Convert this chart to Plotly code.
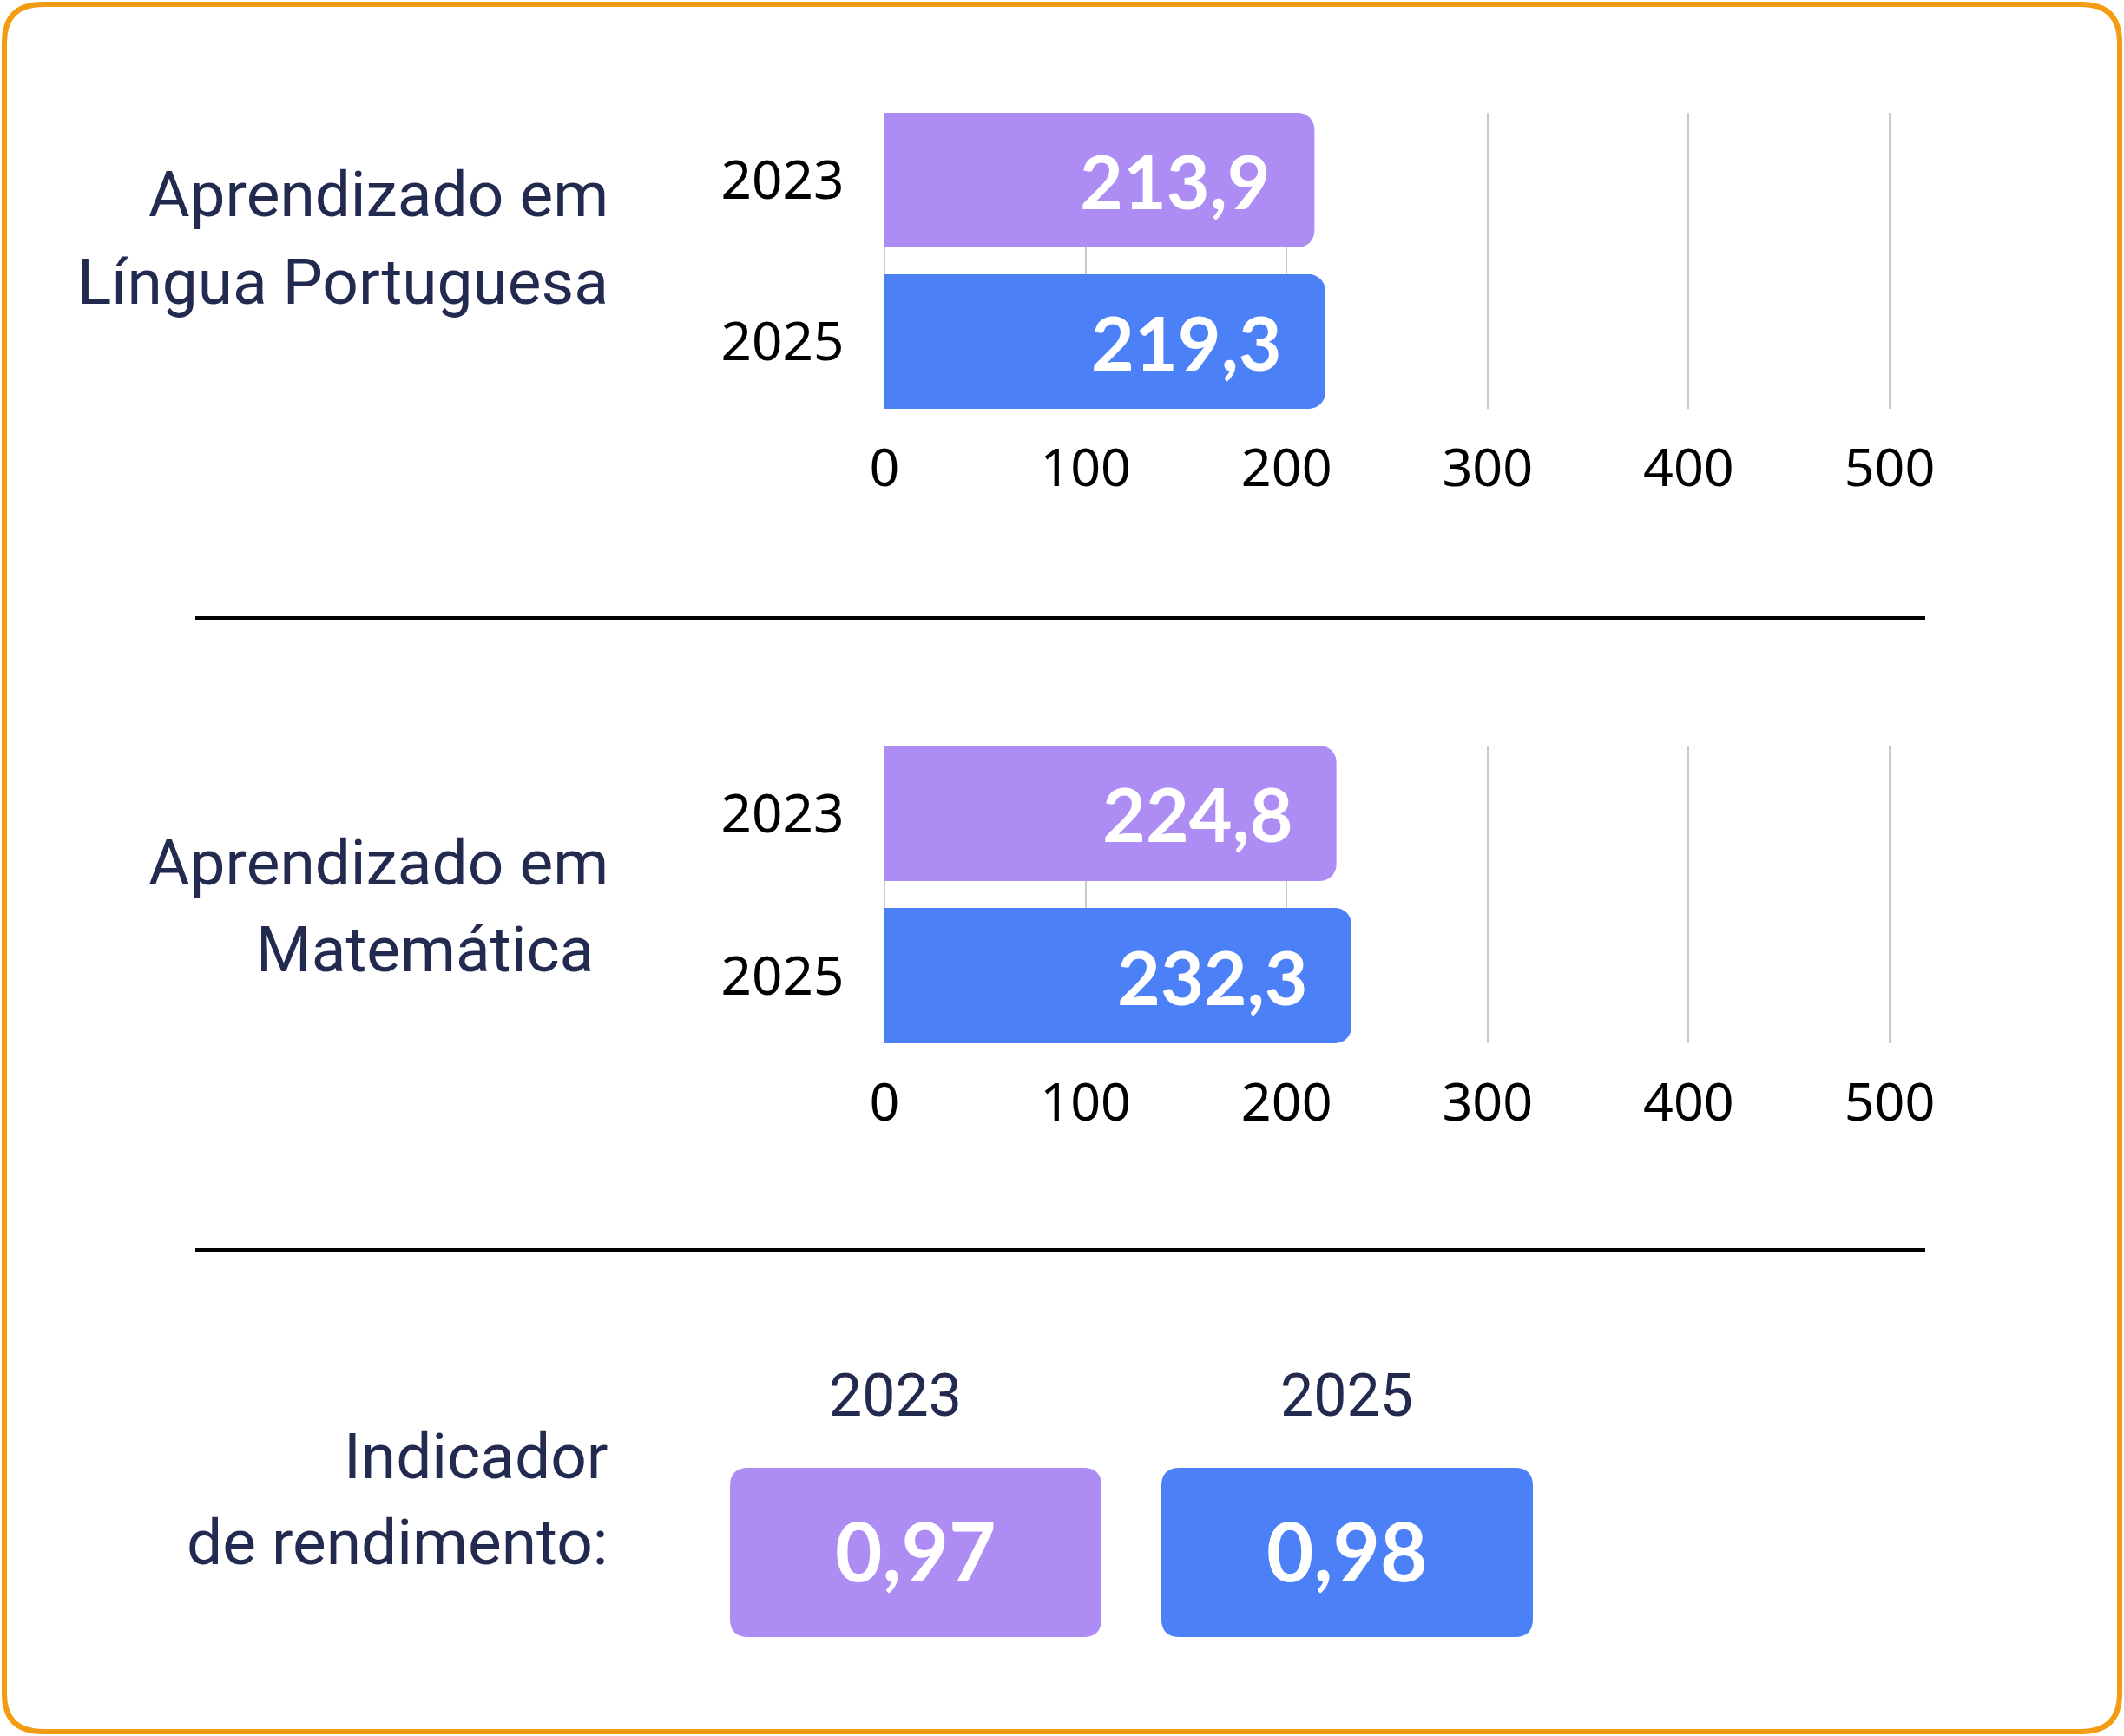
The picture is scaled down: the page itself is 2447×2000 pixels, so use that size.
import plotly.graph_objects as go

# ---------------- data ----------------
years = ["2023", "2025"]
lp_values = [213.9, 219.3]
mat_values = [224.8, 232.3]
indicator_values = [0.97, 0.98]
x_ticks = [0, 100, 200, 300, 400, 500]
lp_label = ["Aprendizado em", "Língua Portuguesa"]
mat_label = ["Aprendizado em", "Matemática"]
indicator_label = ["Indicador", "de rendimento:"]

# ---------------- style ----------------
W, H = 2447, 2000
PURPLE = "#AD8DF3"
BLUE = "#4C80F6"
NAVY = "#222A50"
ORANGE = "#F39C12"
GRID = "#C9C9C9"
COND = "Roboto, sans-serif"
TICKF = "Noto Sans, sans-serif"
BOLDF = "Lato, sans-serif"
BAR_W = 0.834
AX0, AX1 = 1019, 2177          # pixel positions of 0 and 500
PAD = 2                         # data units of padding so edge gridlines show
PXU = (AX1 - AX0) / 500.0


def X(px):
    return px / W


def Y(py):
    return 1 - py / H


def fmt(v, d):
    return f"{v:.{d}f}".replace(".", ",")


def rrect(x0, y0, x1, y1, r):
    # rounded rectangle path in paper coords, given pixel box
    pts = [
        f"M {X(x0 + r)},{Y(y0)}",
        f"L {X(x1 - r)},{Y(y0)}",
        f"Q {X(x1)},{Y(y0)} {X(x1)},{Y(y0 + r)}",
        f"L {X(x1)},{Y(y1 - r)}",
        f"Q {X(x1)},{Y(y1)} {X(x1 - r)},{Y(y1)}",
        f"L {X(x0 + r)},{Y(y1)}",
        f"Q {X(x0)},{Y(y1)} {X(x0)},{Y(y1 - r)}",
        f"L {X(x0)},{Y(y0 + r)}",
        f"Q {X(x0)},{Y(y0)} {X(x0 + r)},{Y(y0)}",
        "Z",
    ]
    return " ".join(pts)


fig = go.Figure()

panels = [
    (lp_values, "x", "y"),
    (mat_values, "x2", "y2"),
]
annotations = []
for vals, xa, ya in panels:
    fig.add_trace(go.Bar(
        x=vals, y=[0, 1], orientation="h", width=BAR_W,
        marker=dict(color=[PURPLE, BLUE], line=dict(width=0)),
        xaxis=xa, yaxis=ya, hoverinfo="skip", showlegend=False,
    ))
    for i, v in enumerate(vals):
        annotations.append(dict(
            x=v, y=i, xref=xa, yref=ya, xanchor="right", yanchor="middle",
            xshift=-48, text=f"<b>{fmt(v, 1)}</b>", showarrow=False,
            font=dict(family=BOLDF, size=86, color="white"),
        ))

axis_common_x = dict(
    range=[-PAD, 500 + PAD], tickvals=x_ticks, ticktext=[str(t) for t in x_ticks],
    showgrid=True, gridcolor=GRID, gridwidth=2, zeroline=False, showline=False,
    ticks="", tickfont=dict(family=TICKF, size=61, color="black"),
    ticklabelstandoff=27, fixedrange=True, automargin=False,
)
axis_common_y = dict(
    range=[1 + BAR_W / 2, -BAR_W / 2], tickvals=[0, 1], ticktext=years,
    showgrid=False, zeroline=False, showline=False, ticks="",
    tickfont=dict(family=TICKF, size=62, color="black"),
    ticklabelstandoff=int(round(46 - PAD * PXU)), fixedrange=True, automargin=False,
)

xdom = [X(AX0 - PAD * PXU), X(AX1 + PAD * PXU)]
fig.update_layout(
    xaxis=dict(domain=xdom, anchor="y", **axis_common_x),
    yaxis=dict(domain=[Y(471), Y(130)], anchor="x", **axis_common_y),
    xaxis2=dict(domain=xdom, anchor="y2", **axis_common_x),
    yaxis2=dict(domain=[Y(1202), Y(859)], anchor="x2", **axis_common_y),
)


def label_line(text, cy, right_px, size=73):
    annotations.append(dict(
        x=X(right_px), y=Y(cy), xref="paper", yref="paper",
        xanchor="right", yanchor="middle", text=text, showarrow=False,
        font=dict(family=COND, size=size, color=NAVY),
    ))


label_line(lp_label[0], 224, 703)
label_line(lp_label[1], 325, 703)
label_line(mat_label[0], 994, 703)
label_line(mat_label[1], 1094, 686)
label_line(indicator_label[0], 1678, 703)
label_line(indicator_label[1], 1777, 703)

# indicator boxes
shapes = []
box_centers = [1055, 1552]
year_centers = [1031, 1551]
box_colors = [PURPLE, BLUE]
for i, (yr, v) in enumerate(zip(years, indicator_values)):
    cx = box_centers[i]
    shapes.append(dict(
        type="path", path=rrect(cx - 214, 1691, cx + 214, 1886, 21),
        xref="paper", yref="paper", fillcolor=box_colors[i],
        line=dict(width=0), layer="below",
    ))
    annotations.append(dict(
        x=X(cx), y=Y(1785), xref="paper", yref="paper",
        xanchor="center", yanchor="middle", text=f"<b>{fmt(v, 2)}</b>",
        showarrow=False, font=dict(family=BOLDF, size=94, color="white"),
    ))
    annotations.append(dict(
        x=X(year_centers[i]), y=Y(1608), xref="paper", yref="paper",
        xanchor="center", yanchor="middle", text=yr, showarrow=False,
        font=dict(family=COND, size=68, color=NAVY),
    ))

# separators
for sy in (712, 1440):
    shapes.append(dict(
        type="line", xref="paper", yref="paper",
        x0=X(225), x1=X(2218), y0=Y(sy), y1=Y(sy),
        line=dict(color="black", width=4),
    ))

# outer rounded border
shapes.append(dict(
    type="path", path=rrect(5, 5, 2442, 1995, 44),
    xref="paper", yref="paper", line=dict(color=ORANGE, width=6),
    fillcolor="rgba(0,0,0,0)",
))

fig.update_layout(
    width=W, height=H, margin=dict(l=0, r=0, t=0, b=0, pad=0, autoexpand=False),
    paper_bgcolor="white", plot_bgcolor="white",
    barcornerradius=19, showlegend=False,
    annotations=annotations, shapes=shapes,
)

fig.write_html(
    "out.html",
    config={"displayModeBar": False},
    post_script="document.body.style.margin='0';document.body.style.overflow='hidden';",
)
